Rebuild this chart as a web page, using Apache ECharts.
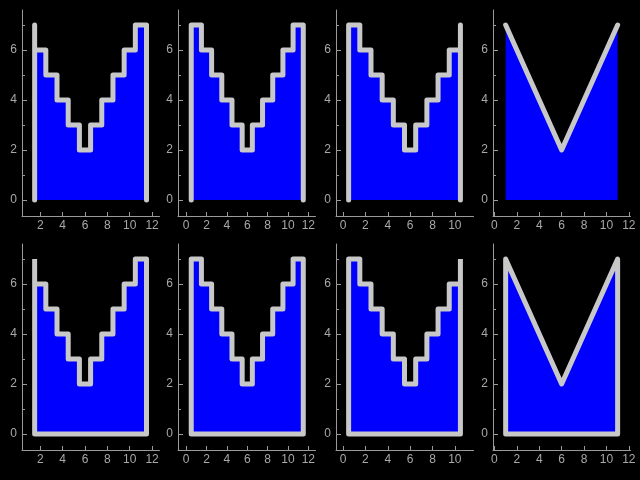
<!DOCTYPE html>
<html><head><meta charset="utf-8">
<script src="https://cdn.jsdelivr.net/npm/echarts@6/dist/echarts.min.js"></script>
<style>html,body{margin:0;padding:0;background:#000}#c{width:640px;height:480px}</style>
</head><body><div id="c"></div>
<script>
const values = [7, 6, 5, 4, 3, 2, 3, 4, 5, 6, 7];
const xPre = [1.5, 2.5, 3.5, 4.5, 5.5, 6.5, 7.5, 8.5, 9.5, 10.5, 11.5];
const xEdges = [0.5, 1.5, 2.5, 3.5, 4.5, 5.5, 6.5, 7.5, 8.5, 9.5, 10.5, 11.5];
const xPost = [0.5, 1.5, 2.5, 3.5, 4.5, 5.5, 6.5, 7.5, 8.5, 9.5, 10.5];
const xLine = [1, 2, 3, 4, 5, 6, 7, 8, 9, 10, 11];
const xTicks = [[2, 4, 6, 8, 10, 12], [0, 2, 4, 6, 8, 10, 12], [0, 2, 4, 6, 8, 10], [0, 2, 4, 6, 8, 10, 12]];
const yTicks = [0, 2, 4, 6];
const yMinorTicks = [1, 3, 5, 7];

function prePath(x, v) {
  const p = [[x[0], 0], [x[0], v[0]]];
  for (let i = 1; i < v.length; i++) { p.push([x[i - 1], v[i]]); p.push([x[i], v[i]]); }
  p.push([x[x.length - 1], 0]);
  return p;
}
function stairsPath(e, v) {
  const p = [[e[0], 0]];
  for (let i = 0; i < v.length; i++) { p.push([e[i], v[i]]); p.push([e[i + 1], v[i]]); }
  p.push([e[e.length - 1], 0]);
  return p;
}
function postPath(x, v) {
  const p = [[x[0], 0]];
  for (let i = 0; i < v.length - 1; i++) { p.push([x[i], v[i]]); p.push([x[i + 1], v[i]]); }
  const n = x.length - 1;
  p.push([x[n], v[n]]);
  p.push([x[n], 0]);
  return p;
}
function linePath(x, v) { return x.map((xx, i) => [xx, v[i]]); }

const pre = prePath(xPre, values);
const st = stairsPath(xEdges, values);
const post = postPath(xPost, values);
const lin = linePath(xLine, values);
const nP = xPost.length - 1, nL = xLine.length - 1;

const fills = [pre, st, post, lin];
const topLines = [pre, st, post, lin];
const bottomLines = [
  pre.slice(1).concat([[xPre[0], 0], [xPre[0], values[0]]]),
  st.concat([st[0], st[1]]),
  [[xPost[nP], values[nP]], [xPost[nP], 0]].concat(post.slice(0, -1)),
  [[xLine[0], 0]].concat(lin, [[xLine[nL], 0], [xLine[0], 0], [xLine[0], values[0]]])
];

const xRanges = [[0.37, 12.66], [-0.8, 12.7], [-0.63, 11.67], [-0.13, 12.15]];
const lefts = [22, 178, 336, 493];
const tops = [10, 244];
const W = 137.5, H = 206;
const axisColor = '#9a9a9a', textColor = '#a8a8a8';
const labelFont = { color: textColor, fontSize: 12, fontFamily: 'Liberation Sans' };

const grid = [], xAxis = [], yAxis = [], series = [];
let g = 0;
for (let r = 0; r < 2; r++) {
  for (let c = 0; c < 4; c++) {
    grid.push({ left: lefts[c], top: tops[r], width: W, height: H });
    xAxis.push({
      type: 'value', gridIndex: g, min: xRanges[c][0], max: xRanges[c][1],
      axisLine: { show: true, onZero: false, lineStyle: { color: axisColor, width: 1 } },
      axisTick: { show: true, inside: true, length: 4, customValues: xTicks[c], lineStyle: { color: axisColor } },
      axisLabel: Object.assign({ show: true, customValues: xTicks[c], margin: 4 }, labelFont),
      splitLine: { show: false }
    });
    yAxis.push({
      type: 'value', gridIndex: g, min: -0.64, max: 7.6, position: 'left',
      axisLine: { show: true, onZero: false, lineStyle: { color: axisColor, width: 1 } },
      axisTick: { show: true, inside: true, length: 5, customValues: yTicks, lineStyle: { color: axisColor } },
      axisLabel: Object.assign({ show: true, customValues: yTicks, margin: 5 }, labelFont),
      splitLine: { show: false }
    });
    yAxis.push({
      type: 'value', gridIndex: g, min: -0.64, max: 7.6, position: 'left',
      axisLine: { show: false, onZero: false },
      axisTick: { show: true, inside: true, length: 3, customValues: yMinorTicks, lineStyle: { color: axisColor } },
      axisLabel: { show: false },
      splitLine: { show: false }
    });
    series.push({
      type: 'line', xAxisIndex: g, yAxisIndex: 2 * g, data: fills[c], symbol: 'none',
      lineStyle: { width: 0, opacity: 0 }, areaStyle: { color: '#0000ff', opacity: 1 }, z: 2, silent: true
    });
    series.push({
      type: 'line', xAxisIndex: g, yAxisIndex: 2 * g, data: r === 0 ? topLines[c] : bottomLines[c], symbol: 'none',
      lineStyle: { color: '#c8c8c8', width: 5, join: 'round', cap: r === 0 ? 'round' : 'butt' }, z: 3, silent: true
    });
    g++;
  }
}

const chart = echarts.init(document.getElementById('c'), null, { renderer: 'canvas' });
chart.setOption({ backgroundColor: '#000000', animation: false, grid, xAxis, yAxis, series });
</script>
</body></html>
